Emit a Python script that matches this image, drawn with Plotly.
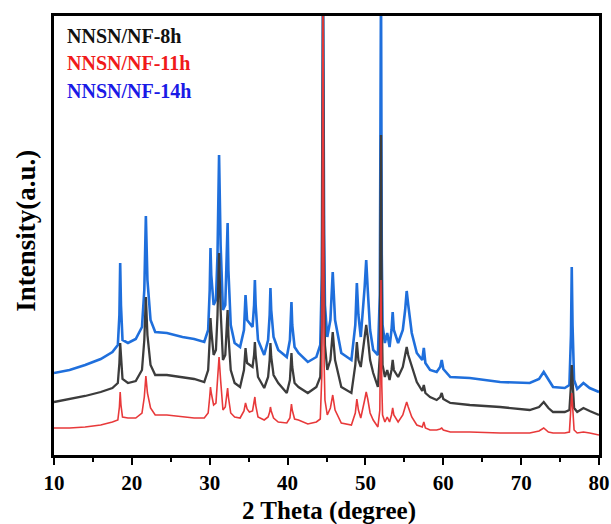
import plotly.graph_objects as go

# 2-theta positions shared by the three XRD patterns (degrees)
two_theta = [
    10, 12, 14, 16, 17.5, 18.2, 18.4, 18.5, 18.6, 18.8,
    19.5, 20.5, 21.3, 21.6, 21.8, 22.0, 22.4, 23.0, 24.5, 26.5,
    28.0, 29.3, 29.8, 30.0, 30.1, 30.2, 30.5, 30.8, 31.0, 31.2,
    31.4, 31.7, 32.0, 32.2, 32.3, 32.4, 32.7, 33.2, 33.9, 34.4,
    34.6, 34.8, 35.1, 35.5, 35.7, 35.8, 35.9, 36.2, 37.0, 37.5,
    37.7, 37.8, 37.9, 38.2, 38.8, 39.9, 40.3, 40.5, 40.6, 40.9,
    41.4, 42.6, 43.7, 44.2, 44.4, 44.55, 44.7, 44.8, 45.1, 45.5,
    45.8, 46.1, 46.9, 48.2, 48.7, 48.9, 49.1, 49.4, 49.9, 50.1,
    50.3, 50.6, 51.0, 51.6, 51.85, 52.0, 52.1, 52.2, 52.5, 52.8,
    53.1, 53.35, 53.5, 53.65, 54.2, 54.8, 55.1, 55.3, 55.5, 55.95,
    56.6, 57.3, 57.5, 57.7, 58.3, 59.15, 59.6, 59.8, 60.0, 60.9,
    63.4, 67.3, 71.1, 72.3, 72.9, 73.5, 74.1, 75.6, 76.2, 76.4,
    76.5, 76.6, 76.8, 77.2, 78.0, 78.8, 80.0,
]

# Stacked intensities (a.u., offset per sample)
nnsn_14h = [
    82, 85, 90, 96, 103, 110, 140, 192, 150, 115,
    112, 116, 128, 165, 239, 175, 135, 123, 122, 118,
    116, 113, 125, 165, 207, 180, 150, 155, 200, 300,
    210, 145, 150, 195, 232, 185, 130, 112, 108, 125,
    160, 135, 132, 128, 150, 175, 150, 115, 100, 115,
    140, 167, 145, 118, 105, 98, 115, 153, 130, 108,
    102, 93, 98, 110, 180, 480, 220, 150, 118, 135,
    183, 135, 102, 95, 130, 172, 140, 118, 168, 195,
    165, 125, 105, 100, 160, 480, 200, 130, 112, 122,
    108, 125, 143, 125, 112, 125, 145, 164, 150, 122,
    102, 95, 107, 92, 85, 83, 88, 95, 86, 78,
    77, 73, 72, 76, 83, 75, 68, 67, 70, 120,
    188, 130, 75, 66, 72, 67, 63,
]

nnsn_8h = [
    53, 56, 59, 63, 67, 72, 92, 112, 95, 76,
    72, 74, 85, 115, 158, 120, 90, 80, 80, 78,
    76, 73, 85, 115, 137, 125, 100, 105, 140, 202,
    145, 95, 100, 130, 145, 120, 85, 72, 68, 85,
    107, 92, 90, 88, 100, 113, 100, 78, 67, 78,
    95, 112, 98, 80, 72, 62, 75, 102, 88, 72,
    68, 62, 68, 78, 130, 470, 160, 110, 85, 95,
    123, 95, 68, 62, 90, 113, 95, 88, 118, 130,
    118, 95, 82, 68, 100, 320, 140, 90, 78, 85,
    75, 85, 95, 85, 78, 88, 100, 108, 100, 88,
    73, 64, 70, 62, 58, 55, 58, 62, 56, 52,
    50, 48, 45, 48, 53, 47, 43, 43, 45, 70,
    90, 75, 47, 43, 47, 44, 40,
]

nnsn_11h = [
    27, 27, 28, 30, 33, 35, 48, 63, 50, 38,
    37, 37, 42, 58, 79, 62, 47, 40, 40, 38,
    37, 37, 42, 58, 68, 62, 50, 52, 72, 98,
    75, 45, 48, 60, 67, 58, 42, 38, 37, 44,
    52, 46, 43, 44, 52, 58, 50, 38, 35, 38,
    43, 48, 44, 37, 33, 32, 37, 51, 45, 36,
    35, 31, 33, 36, 80, 460, 90, 55, 40, 47,
    60, 45, 32, 30, 42, 56, 45, 37, 55, 63,
    56, 42, 35, 28, 45, 175, 70, 40, 33, 38,
    33, 40, 47, 40, 33, 40, 48, 53, 48, 38,
    30, 28, 33, 27, 25, 25, 26, 27, 25, 23,
    23, 22, 22, 24, 27, 23, 22, 22, 23, 45,
    62, 50, 25, 22, 23, 22, 20,
]

for series in (nnsn_14h, nnsn_8h, nnsn_11h):
    assert len(series) == len(two_theta)

sample_names = ["NNSN/NF-8h", "NNSN/NF-11h", "NNSN/NF-14h"]
label_colors = ["#111111", "#f01a1a", "#1a1ae6"]

x_ticks = [10, 20, 30, 40, 50, 60, 70, 80]

serif = "Liberation Serif"

fig = go.Figure()

# drawn back to front: 14h, 8h, 11h
fig.add_trace(go.Scatter(x=two_theta, y=nnsn_14h, mode="lines",
                         line=dict(color="#1f6fdc", width=2.6), name=sample_names[2]))
fig.add_trace(go.Scatter(x=two_theta, y=nnsn_8h, mode="lines",
                         line=dict(color="#3c3c3c", width=2.3), name=sample_names[0]))
fig.add_trace(go.Scatter(x=two_theta, y=nnsn_11h, mode="lines",
                         line=dict(color="#e8393a", width=1.6), name=sample_names[1]))

annotations = []
for i, (name, col) in enumerate(zip(sample_names, label_colors)):
    annotations.append(dict(
        text=f"<b>{name}</b>", xref="paper", yref="paper",
        x=0.02, y=0.955 - i * 0.063, xanchor="left", yanchor="middle",
        showarrow=False, font=dict(family=serif, size=20, color=col)))

annotations.append(dict(
    text="<b>2 Theta (degree)</b>", xref="paper", yref="paper",
    x=0.505, y=-0.127, xanchor="center", yanchor="middle",
    showarrow=False, font=dict(family=serif, size=25, color="black")))
annotations.append(dict(
    text="<b>Intensity(a.u.)</b>", xref="paper", yref="paper",
    x=-0.052, y=0.51, xanchor="center", yanchor="middle", textangle=-90,
    showarrow=False, font=dict(family=serif, size=27, color="black")))

fig.update_layout(
    width=611, height=524,
    margin=dict(l=54, r=12, t=16, b=69, autoexpand=False),
    paper_bgcolor="white", plot_bgcolor="white",
    showlegend=False,
    annotations=annotations,
    xaxis=dict(
        range=[10, 80], tickvals=x_ticks, ticktext=[str(v) for v in x_ticks],
        automargin=False,
        ticks="outside", ticklen=7, tickwidth=2, tickcolor="black",
        ticklabelstandoff=0,
        minor=dict(dtick=5, tick0=10, ticks="outside", ticklen=4, tickwidth=2, tickcolor="black"),
        showline=True, linewidth=2.5, linecolor="black", mirror=True,
        showgrid=False, zeroline=False,
        tickfont=dict(family=serif, size=21, color="black", weight="bold"),
    ),
    yaxis=dict(
        range=[0, 439], showticklabels=False, ticks="", automargin=False,
        showline=True, linewidth=2.5, linecolor="black", mirror=True,
        showgrid=False, zeroline=False,
    ),
)

fig.write_html("out.html")
